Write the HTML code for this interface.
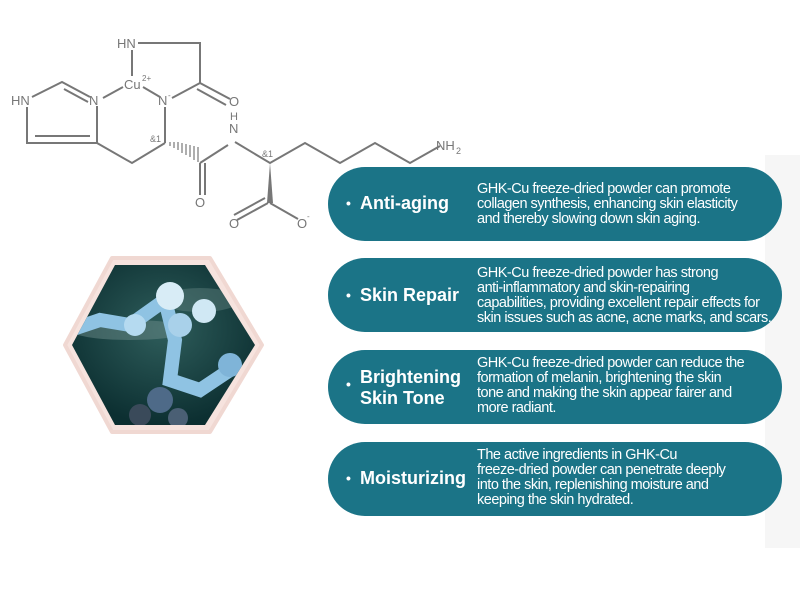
<!DOCTYPE html>
<html><head><meta charset="utf-8"><style>
body{margin:0;width:800px;height:600px;background:#fff;position:relative;overflow:hidden;font-family:"Liberation Sans Narrow","Liberation Sans",sans-serif;}
.panel{position:absolute;left:765px;top:155px;width:35px;height:393px;background:#f6f6f6;}
.pill{position:absolute;left:328px;width:454px;height:74px;background:#1b7487;border-radius:37px;color:#fff;}
.t{position:absolute;left:18px;font-weight:bold;font-size:18px;line-height:21px;}
.t b{position:absolute;left:0;font-size:14px;}
.t span{display:block;padding-left:14px;}
.d{position:absolute;left:149px;font-size:14.5px;line-height:15px;letter-spacing:-0.5px;}
</style></head><body>
<div class="panel"></div>
<svg width="800" height="600" style="position:absolute;left:0;top:0">
<defs><clipPath id="hx"><polygon points="72,345 115,265 205,265 255,345 205,425 115,425"/></clipPath>
<radialGradient id="g1" cx="0.5" cy="0.4" r="0.6"><stop offset="0" stop-color="#2f5e5c"/><stop offset="1" stop-color="#0c2f31"/></radialGradient></defs>
<g stroke="#777" stroke-width="2" fill="none">
<polyline points="138,43 200,43 200,83"/>
<line x1="132" y1="50" x2="132" y2="76"/>
<line x1="200" y1="83" x2="230" y2="99"/><line x1="197" y1="89" x2="226" y2="105"/>
<line x1="200" y1="83" x2="172" y2="98"/>
<line x1="123" y1="87" x2="103" y2="98"/><line x1="143" y1="87" x2="160" y2="97"/>
<polyline points="32,97 62,82 90,97"/><line x1="64" y1="89" x2="88" y2="102"/>
<polyline points="97,106 97,143 27,143 27,107"/><line x1="35" y1="136" x2="90" y2="136"/>
<polyline points="97,143 132,163 165,143"/>
<line x1="165" y1="107" x2="165" y2="143"/>
<polyline points="235,142 270,163 305,143 340,163 375,143 410,163 440,146"/>
<line x1="228" y1="145" x2="200" y2="163"/>
<line x1="200" y1="163" x2="200" y2="195"/><line x1="205" y1="163" x2="205" y2="195"/>
<line x1="268" y1="203" x2="237" y2="220"/><line x1="265" y1="198" x2="234" y2="215"/>
<line x1="270" y1="203" x2="298" y2="219"/>
</g>
<g stroke="#777" stroke-width="1.2">
<line x1="170" y1="146" x2="170" y2="142"/><line x1="174" y1="148" x2="174" y2="142"/><line x1="178" y1="150" x2="178" y2="142"/><line x1="182" y1="153" x2="182" y2="143"/><line x1="186" y1="155" x2="186" y2="144"/><line x1="190" y1="157" x2="190" y2="145"/><line x1="194" y1="160" x2="194" y2="146"/><line x1="198" y1="162" x2="198" y2="147"/>
</g>
<polygon points="270,163 267,203 273,203" fill="#777"/>
<g font-family="Liberation Sans,sans-serif" fill="#777" font-size="13">
<text x="117" y="48">HN</text><text x="124" y="89">Cu</text><text x="142" y="81" font-size="8">2+</text>
<text x="11" y="105">HN</text><text x="89" y="105">N</text><text x="158" y="105">N</text><text x="168" y="98" font-size="8">-</text>
<text x="229" y="106">O</text><text x="195" y="207">O</text>
<text x="229" y="133">N</text><text x="230" y="120" font-size="11">H</text>
<text x="150" y="142" font-size="9">&amp;1</text><text x="262" y="157" font-size="9">&amp;1</text>
<text x="436" y="150">NH</text><text x="456" y="154" font-size="9">2</text>
<text x="229" y="228">O</text><text x="297" y="228">O</text><text x="307" y="219" font-size="8">-</text>
</g>
<polygon points="65,345 112,258 210,258 262,345 210,432 112,432" fill="#f6e3de" stroke="#f0d8d2" stroke-width="4" stroke-linejoin="round"/>
<polygon points="72,345 115,265 205,265 255,345 205,425 115,425" fill="url(#g1)"/>
<g clip-path="url(#hx)">
<ellipse cx="130" cy="330" rx="60" ry="10" fill="#6a8a88" opacity="0.5"/>
<ellipse cx="200" cy="300" rx="40" ry="12" fill="#6a8a88" opacity="0.4"/>
<path d="M70,330 L100,320 L130,325 L165,300 L175,340 L170,380 L200,390 L230,370" stroke="#8fc3e3" stroke-width="14" fill="none" stroke-linecap="round"/>
<circle cx="170" cy="296" r="14" fill="#d8ecf6"/><circle cx="204" cy="311" r="12" fill="#d0e8f4"/><circle cx="180" cy="325" r="12" fill="#a9d1ea"/>
<circle cx="135" cy="325" r="11" fill="#b5daf0"/><circle cx="230" cy="365" r="12" fill="#7fb4d8"/>
<circle cx="160" cy="400" r="13" fill="#4e6a88"/><circle cx="140" cy="415" r="11" fill="#3a4a5a"/><circle cx="178" cy="418" r="10" fill="#4a5f74"/>
</g>
</svg>
<div class="pill" style="top:167px"><div class="t" style="top:26px"><b>•</b><span>Anti-aging</span></div><div class="d" style="top:15px">GHK-Cu freeze-dried powder can promote<br>collagen synthesis, enhancing skin elasticity<br>and thereby slowing down skin aging.</div></div>
<div class="pill" style="top:258px"><div class="t" style="top:27px"><b>•</b><span>Skin Repair</span></div><div class="d" style="top:8px">GHK-Cu freeze-dried powder has strong<br>anti-inflammatory and skin-repairing<br>capabilities, providing excellent repair effects for<br>skin issues such as acne, acne marks, and scars.</div></div>
<div class="pill" style="top:350px"><div class="t" style="top:17px"><b style="top:7px">•</b><span>Brightening<br>Skin Tone</span></div><div class="d" style="top:6px">GHK-Cu freeze-dried powder can reduce the<br>formation of melanin, brightening the skin<br>tone and making the skin appear fairer and<br>more radiant.</div></div>
<div class="pill" style="top:442px"><div class="t" style="top:26px"><b>•</b><span>Moisturizing</span></div><div class="d" style="top:6px">The active ingredients in GHK-Cu<br>freeze-dried powder can penetrate deeply<br>into the skin, replenishing moisture and<br>keeping the skin hydrated.</div></div>
</body></html>
